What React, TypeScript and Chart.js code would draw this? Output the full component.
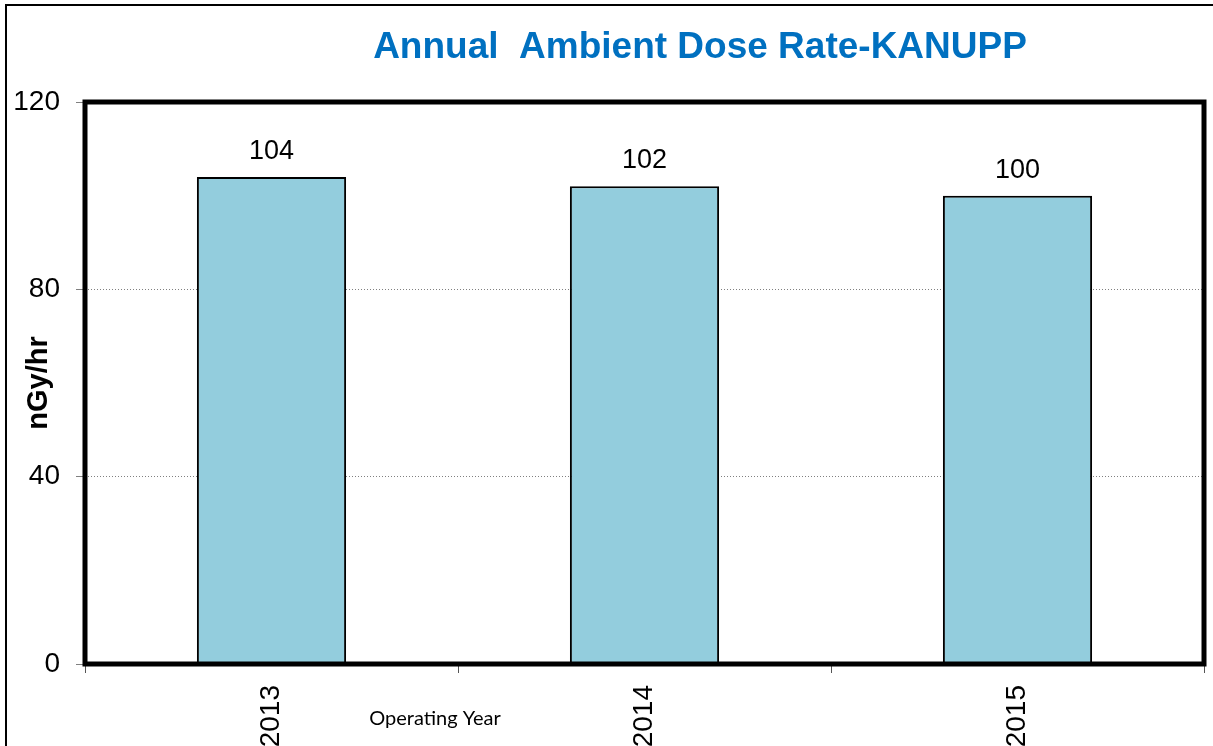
import React, { useEffect, useRef } from "react";
import { Chart, registerables } from "chart.js";

Chart.register(...registerables);

const categories = ["2013", "2014", "2015"];
const doseRates = [104, 102, 100];
const yStep = 40;
const yMax = 120;
const chartTitle = "Annual  Ambient Dose Rate-KANUPP";
const yTitle = "nGy/hr";
const xTitle = "Operating Year";

const FONT = "'Liberation Sans', Arial, sans-serif";

export default function App() {
  const ref = useRef<HTMLCanvasElement>(null);

  useEffect(() => {
    document.body.style.margin = "0";
    const canvas = ref.current;
    if (!canvas) return;

    const framePlugin = {
      id: "frameAndText",
      beforeDraw(chart: any) {
        const ctx = chart.ctx;
        ctx.save();
        ctx.fillStyle = "#ffffff";
        ctx.fillRect(0, 0, chart.width, chart.height);
        ctx.strokeStyle = "#000000";
        ctx.lineWidth = 2;
        ctx.strokeRect(6, 5, chart.width + 40, chart.height + 40);
        ctx.font = `bold 37px ${FONT}`;
        ctx.fillStyle = "#0070C0";
        ctx.textAlign = "center";
        ctx.textBaseline = "alphabetic";
        ctx.fillText(chartTitle, 700, 58);
        ctx.font = "20px Lato, sans-serif";
        ctx.fillStyle = "#000000";
        ctx.fillText(xTitle, 435, 725);
        ctx.restore();
      },
      afterDatasetsDraw(chart: any) {
        const ctx = chart.ctx;
        const { left, top, right, bottom } = chart.chartArea;
        ctx.save();
        const meta = chart.getDatasetMeta(0);
        const values = chart.data.datasets[0].data;
        ctx.font = `27px ${FONT}`;
        ctx.fillStyle = "#000000";
        ctx.textAlign = "center";
        ctx.textBaseline = "alphabetic";
        meta.data.forEach((el: any, i: number) => {
          ctx.fillText(String(values[i]), el.x, el.y - 18);
        });
        ctx.lineWidth = 5;
        ctx.strokeStyle = "#000000";
        ctx.strokeRect(left, top, right - left, bottom - top);
        ctx.restore();
      },
    };

    const chart = new Chart(canvas, {
      type: "bar",
      data: {
        labels: categories,
        datasets: [
          {
            data: doseRates,
            backgroundColor: "#93CDDD",
            borderColor: "#000000",
            borderWidth: 2,
            barPercentage: 0.4,
            categoryPercentage: 1.0,
          },
        ],
      },
      options: {
        responsive: false,
        animation: false,
        layout: { padding: { top: 102, right: 9, left: 0, bottom: 0 } },
        plugins: {
          legend: { display: false },
          tooltip: { enabled: false },
          title: { display: false },
        },
        scales: {
          x: {
            offset: true,
            grid: {
              offset: true,
              drawOnChartArea: false,
              tickLength: 9,
              tickColor: "#555555",
              lineWidth: 1,
            },
            border: { display: false },
            ticks: {
              font: { family: FONT, size: 28 },
              color: "#000000",
              minRotation: 90,
              maxRotation: 90,
              padding: 12,
              autoSkip: false,
            },
            afterFit: (scale: any) => {
              scale.height = 82;
            },
          },
          y: {
            min: 0,
            max: yMax,
            ticks: {
              stepSize: yStep,
              font: { family: FONT, size: 28 },
              color: "#000000",
              padding: 16,
            },
            grid: {
              color: "#808080",
              lineWidth: 1,
              tickLength: 9,
              tickColor: "#808080",
            },
            border: { display: false, dash: [1, 2] },
            title: {
              display: true,
              text: yTitle,
              font: { family: FONT, size: 29, weight: "bold" },
              color: "#000000",
              padding: { top: 22, bottom: 0 },
            },
            afterFit: (scale: any) => {
              scale.width = 85;
            },
          },
        },
      },
      plugins: [framePlugin],
    });

    return () => chart.destroy();
  }, []);

  return (
    <div style={{ position: "fixed", left: 0, top: 0, width: 1213, height: 746 }}>
      <canvas ref={ref} width={1213} height={746} style={{ width: 1213, height: 746 }} />
    </div>
  );
}
